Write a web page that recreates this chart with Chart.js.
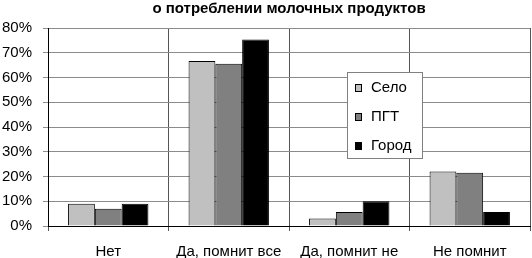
<!DOCTYPE html>
<html>
<head>
<meta charset="utf-8">
<script src="https://cdn.jsdelivr.net/npm/chart.js@4/dist/chart.umd.min.js"></script>
<style>
html,body{margin:0;padding:0;background:#fff;}
#c{display:block;}
</style>
</head>
<body>
<canvas id="c" width="532" height="258"></canvas>
<script>
const categories = ["Нет", "Да, помнит все", "Да, помнит не", "Не помнит"];
const seriesNames = ["Село", "ПГТ", "Город"];
const selo = [9, 66.7, 3, 22];
const pgt = [7, 65.6, 5.7, 21.5];
const gorod = [9, 75.4, 10, 5.7];
const yTicks = [0, 10, 20, 30, 40, 50, 60, 70, 80];
const titleText = "о потреблении молочных продуктов";

const colors = ["#c0c0c0", "#808080", "#000000"];
const FONT = "'Liberation Sans', Arial, sans-serif";

const legendBox = {
  id: 'legendBox',
  afterDraw(chart) {
    const ctx = chart.ctx;
    ctx.save();
    const x = 347.5, y = 72.5, w = 75, h = 86;
    ctx.fillStyle = '#fff';
    ctx.fillRect(x, y, w, h);
    ctx.strokeStyle = '#808080';
    ctx.lineWidth = 1;
    ctx.strokeRect(x, y, w, h);
    ctx.font = '15px ' + FONT;
    ctx.textBaseline = 'middle';
    chart.data.datasets.forEach((ds, i) => {
      const cy = 88 + i * 29;
      ctx.fillStyle = ds.backgroundColor;
      ctx.fillRect(355, cy - 3.5, 7, 7);
      ctx.strokeStyle = '#000';
      ctx.strokeRect(355.5, cy - 3.5, 6, 7);
      ctx.fillStyle = '#000';
      ctx.fillText(ds.label, 371, cy);
    });
    ctx.restore();
  }
};

new Chart(document.getElementById('c'), {
  type: 'bar',
  data: {
    labels: categories,
    datasets: [
      { label: seriesNames[0], data: selo, backgroundColor: colors[0] },
      { label: seriesNames[1], data: pgt, backgroundColor: colors[1] },
      { label: seriesNames[2], data: gorod, backgroundColor: colors[2] }
    ].map(d => Object.assign(d, { borderColor: '#000', borderWidth: 1, categoryPercentage: 0.667, barPercentage: 1 }))
  },
  options: {
    responsive: false,
    animation: false,
    devicePixelRatio: 1,
    layout: { padding: { left: 0, right: 2, top: 0, bottom: 0 } },
    plugins: {
      legend: { display: false },
      tooltip: { enabled: false },
      title: {
        display: true,
        text: titleText,
        fullSize: false,
        color: '#000',
        font: { family: FONT, size: 15, weight: 'bold' },
        padding: { top: 0, bottom: 10 }
      }
    },
    scales: {
      x: {
        offset: true,
        grid: { offset: true, color: '#555', lineWidth: 1, tickLength: 5, drawTicks: true },
        border: { color: '#000', width: 1 },
        ticks: { color: '#000', font: { family: FONT, size: 15 }, padding: 12, maxRotation: 0, autoSkip: false },
        afterFit(s) { s.height = 32; }
      },
      y: {
        min: 0, max: 80,
        afterBuildTicks(s) { s.ticks = yTicks.map(v => ({ value: v })); },
        grid: { color: '#8c8c8c', lineWidth: 1, tickLength: 5 },
        border: { color: '#000', width: 1 },
        ticks: { color: '#000', font: { family: FONT, size: 15 }, padding: 11, callback: v => v + '%' },
        afterFit(s) { s.width = 48; }
      }
    }
  },
  plugins: [legendBox]
});
</script>
</body>
</html>
